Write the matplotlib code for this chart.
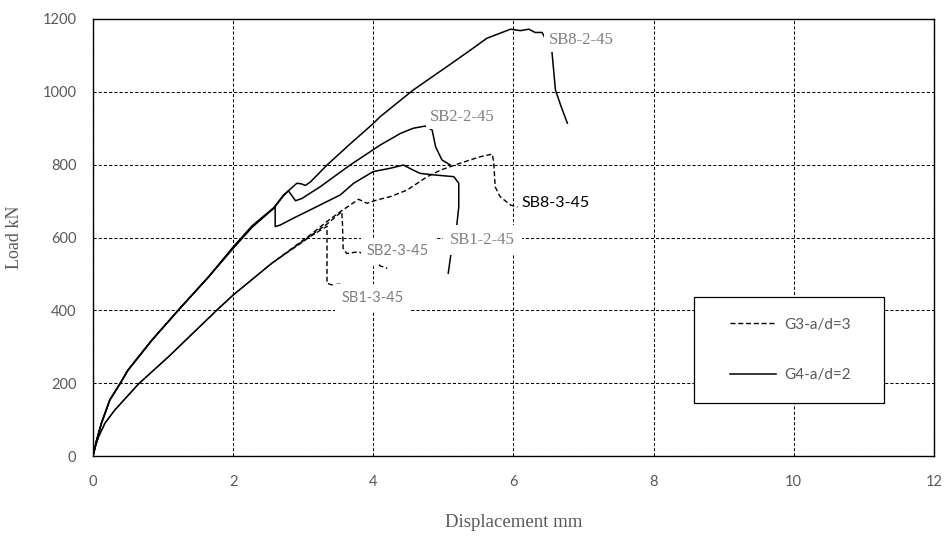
import numpy as np
import matplotlib
matplotlib.use("Agg")
import matplotlib.pyplot as plt
from matplotlib.patches import Rectangle

# G4 series (a/d = 2), solid lines
sb8_2_x = [0, 0.05, 0.12, 0.24, 0.39, 0.5, 0.84, 1.22, 1.65, 2.0, 2.27, 2.58, 2.72, 2.81,
           2.91, 2.98, 3.03, 3.1, 3.34, 3.67, 4.0, 4.1, 4.57, 5.05, 5.39, 5.62, 5.96,
           6.1, 6.22, 6.31, 6.41, 6.55, 6.6, 6.68, 6.77]
sb8_2_y = [0, 42, 90, 154, 200, 236, 318, 401, 492, 574, 632, 682, 717, 732,
           749, 747, 743, 752, 799, 857, 913, 932, 1005, 1069, 1115, 1147, 1172,
           1168, 1172, 1163, 1163, 1110, 1005, 960, 914]

sb2_2_x = [0, 0.05, 0.12, 0.24, 0.39, 0.5, 0.84, 1.22, 1.65, 2.0, 2.27, 2.58, 2.72, 2.79,
           2.89, 2.98, 3.24, 3.67, 4.1, 4.39, 4.57, 4.74, 4.84, 4.89, 4.98, 5.1]
sb2_2_y = [0, 42, 90, 154, 200, 236, 318, 401, 492, 572, 630, 680, 715, 728,
           701, 707, 739, 799, 854, 886, 900, 906, 895, 849, 813, 799]

sb1_2_x = [0, 0.05, 0.12, 0.24, 0.39, 0.5, 0.84, 1.22, 1.65, 2.0, 2.27, 2.6, 2.6, 2.67,
           2.86, 3.05, 3.29, 3.53, 3.72, 4.0, 4.24, 4.43, 4.57, 4.67, 4.86, 5.15,
           5.22, 5.22, 5.19, 5.11, 5.07]
sb1_2_y = [0, 42, 90, 154, 200, 236, 318, 401, 492, 570, 628, 684, 630, 634,
           653, 671, 694, 717, 749, 781, 790, 799, 785, 776, 772, 767,
           749, 684, 630, 557, 502]

# G3 series (a/d = 3), dashed lines
sb8_3_x = [0, 0.04, 0.08, 0.17, 0.31, 0.65, 1.08, 1.77, 2.0, 2.55, 3.12, 3.34, 3.53, 3.67,
           3.79, 3.91, 4.05, 4.24, 4.48, 4.77, 4.96, 5.24, 5.53, 5.7, 5.72, 5.74,
           5.81, 5.96, 6.06]
sb8_3_y = [0, 30, 53, 90, 126, 198, 273, 401, 442, 529, 610, 644, 671, 689,
           705, 694, 703, 712, 730, 767, 785, 804, 822, 829, 804, 739,
           712, 689, 684]

sb2_3_x = [0, 0.04, 0.08, 0.17, 0.31, 0.65, 1.08, 1.77, 2.0, 2.55, 3.12, 3.34, 3.55, 3.56,
           3.57, 3.62, 3.79, 3.95, 4.1, 4.2]
sb2_3_y = [0, 30, 53, 90, 126, 198, 273, 401, 442, 529, 607, 637, 671, 640,
           570, 556, 561, 545, 522, 515]

sb1_3_x = [0, 0.04, 0.08, 0.17, 0.31, 0.65, 1.08, 1.77, 2.0, 2.55, 3.12, 3.34, 3.34, 3.41, 3.53]
sb1_3_y = [0, 30, 53, 90, 126, 198, 273, 401, 442, 529, 605, 631, 474, 470, 472]

x_ticks = [0, 2, 4, 6, 8, 10, 12]
y_ticks = [0, 200, 400, 600, 800, 1000, 1200]

sans = ["Lato", "DejaVu Sans"]
serif = ["Liberation Serif", "DejaVu Serif"]
grey = "#595959"
label_grey = "#7f7f7f"

fig = plt.figure(figsize=(9.49, 5.38), dpi=100)
ax = fig.add_axes([0.098, 0.1524, 0.886, 0.8123])

# the three G3 curves share their first part; offset the dashes so the
# overlap reads as an almost solid line, like in the original
ax.plot(sb8_3_x, sb8_3_y, color="black", lw=1.0, linestyle=(0, (3.6, 2.0)),
        label="G3-a/d=3", zorder=2)
ax.plot(sb2_3_x, sb2_3_y, color="black", lw=1.0, linestyle=(1.9, (3.6, 2.0)), zorder=2)
ax.plot(sb1_3_x, sb1_3_y, color="black", lw=1.0, linestyle=(3.8, (3.6, 2.0)), zorder=2)
ax.plot(sb8_2_x, sb8_2_y, color="black", lw=1.1, label="G4-a/d=2", zorder=2)
ax.plot(sb2_2_x, sb2_2_y, color="black", lw=1.1, zorder=2)
ax.plot(sb1_2_x, sb1_2_y, color="black", lw=1.1, zorder=2)

ax.set_xlim(0, 12)
ax.set_ylim(0, 1200)
ax.set_xticks(x_ticks)
ax.set_yticks(y_ticks)
ax.grid(True, color="black", lw=0.75, linestyle=(0, (3, 2)), zorder=0)
ax.set_axisbelow(True)
ax.tick_params(length=0, labelsize=10.5, labelcolor=grey)
ax.tick_params(axis="x", pad=14)
ax.tick_params(axis="y", pad=12)
for lab in ax.get_xticklabels() + ax.get_yticklabels():
    lab.set_family(sans)
for sp in ax.spines.values():
    sp.set_linewidth(1.0)
    sp.set_color("black")

ax.set_xlabel("Displacement mm", family=serif, fontsize=13.5, color=grey)
ax.set_ylabel("Load kN", family=serif, fontsize=13, color=grey)
ax.xaxis.set_label_coords(0.5, -0.133)
ax.yaxis.set_label_coords(-0.083, 0.5)

# curve labels (white boxes hide the grid and line ends behind them)
box = dict(facecolor="white", edgecolor="none", pad=3)
box_big = dict(facecolor="white", edgecolor="none", pad=5)
ax.text(6.5, 1142, "SB8-2-45", family=serif, fontsize=12, color=label_grey,
        ha="left", va="center", bbox=box, zorder=4)
ax.text(4.81, 931, "SB2-2-45", family=serif, fontsize=12, color=label_grey,
        ha="left", va="center", bbox=box, zorder=4)
ax.text(5.1, 593, "SB1-2-45", family=serif, fontsize=12, color=label_grey,
        ha="left", va="center", bbox=box_big, zorder=4)
ax.text(6.12, 695, "SB8-3-45", family=sans, fontsize=11.5, color="black",
        ha="left", va="center", bbox=box, zorder=4)
ax.text(3.91, 563, "SB2-3-45", family=sans, fontsize=10.5, color=label_grey,
        ha="left", va="center", bbox=dict(facecolor="white", edgecolor="none", pad=4), zorder=4)
ax.text(3.55, 435, "SB1-3-45", family=sans, fontsize=10.5, color=label_grey,
        ha="left", va="center", bbox=box_big, zorder=4)

# legend in a plain box
ax.add_patch(Rectangle((0.7146, 0.1213), 0.2259, 0.2426, transform=ax.transAxes,
                       facecolor="white", edgecolor="black", lw=0.9, zorder=5))
leg = ax.legend(loc="center", bbox_to_anchor=(0.830, 0.2426), frameon=False,
                prop={"family": sans, "size": 11}, handlelength=3.0,
                handletextpad=0.55, labelspacing=2.4, borderpad=0)
leg.set_zorder(6)
for t in leg.get_texts():
    t.set_color(grey)

fig.savefig("out.png", dpi=100)
